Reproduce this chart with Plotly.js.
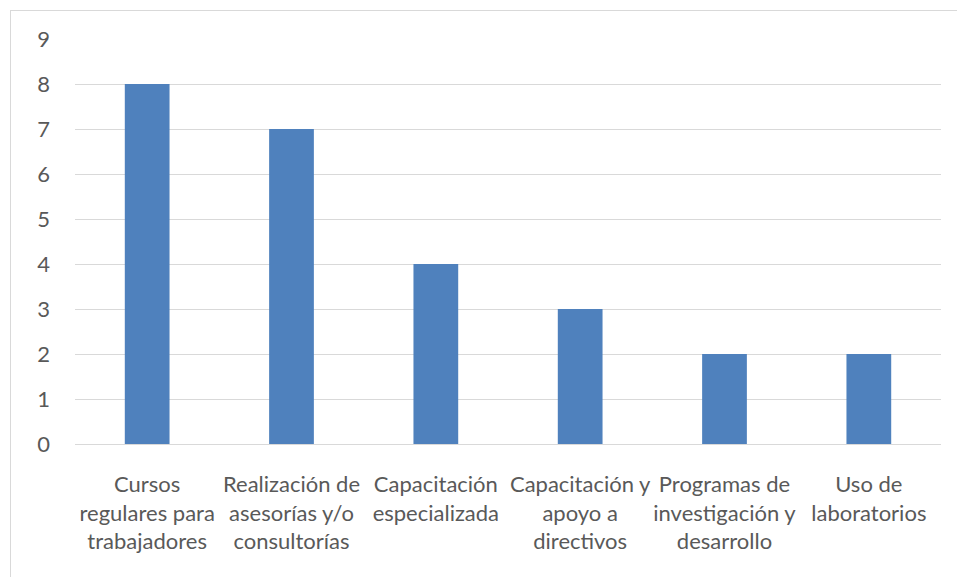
<!DOCTYPE html>
<html>
<head>
<meta charset="utf-8">
<script src="https://cdn.plot.ly/plotly-3.0.1.min.js"></script>
<style>
html,body{margin:0;padding:0;background:#fff;}
#wrap{position:relative;width:957px;height:577px;overflow:hidden;}
#frame{position:absolute;left:10px;top:10px;width:960px;height:580px;border:1px solid #d9d9d9;box-sizing:border-box;}
#chart{position:absolute;left:0;top:0;width:957px;height:577px;}
</style>
</head>
<body>
<div id="wrap"><div id="frame"></div><div id="chart"></div></div>
<script>
var categories = [
  "Cursos<br>regulares para<br>trabajadores",
  "Realización de<br>asesorías y/o<br>consultorías",
  "Capacitación<br>especializada",
  "Capacitación y<br>apoyo a<br>directivos",
  "Programas de<br>investigación y<br>desarrollo",
  "Uso de<br>laboratorios"
];
var values = [8, 7, 4, 3, 2, 2];
var yTicks = [0, 1, 2, 3, 4, 5, 6, 7, 8, 9];

var font = {family: "Lato, 'Open Sans', sans-serif", size: 22, color: "#595959"};

Plotly.newPlot("chart", [{
  type: "bar",
  x: categories,
  y: values,
  marker: {color: "#4f81bd"},
  hoverinfo: "x+y"
}], {
  width: 957,
  height: 577,
  margin: {l: 75, r: 16, t: 39, b: 133, pad: 0},
  paper_bgcolor: "rgba(0,0,0,0)",
  plot_bgcolor: "rgba(0,0,0,0)",
  bargap: 0.69,
  showlegend: false,
  font: font,
  xaxis: {
    type: "category",
    tickangle: 0,
    tickfont: font,
    showgrid: false,
    showline: false,
    ticks: "",
    ticklabelstandoff: 25,
    automargin: false
  },
  yaxis: {
    range: [0, 9],
    tickvals: yTicks,
    ticktext: yTicks.map(String),
    tickfont: font,
    showgrid: true,
    gridcolor: "#d9d9d9",
    gridwidth: 1,
    zeroline: true,
    zerolinecolor: "#d9d9d9",
    zerolinewidth: 1,
    showline: false,
    ticks: "",
    ticklabelstandoff: 24,
    automargin: false,
    fixedrange: true
  }
}, {displayModeBar: false, staticPlot: true});
</script>
</body>
</html>
